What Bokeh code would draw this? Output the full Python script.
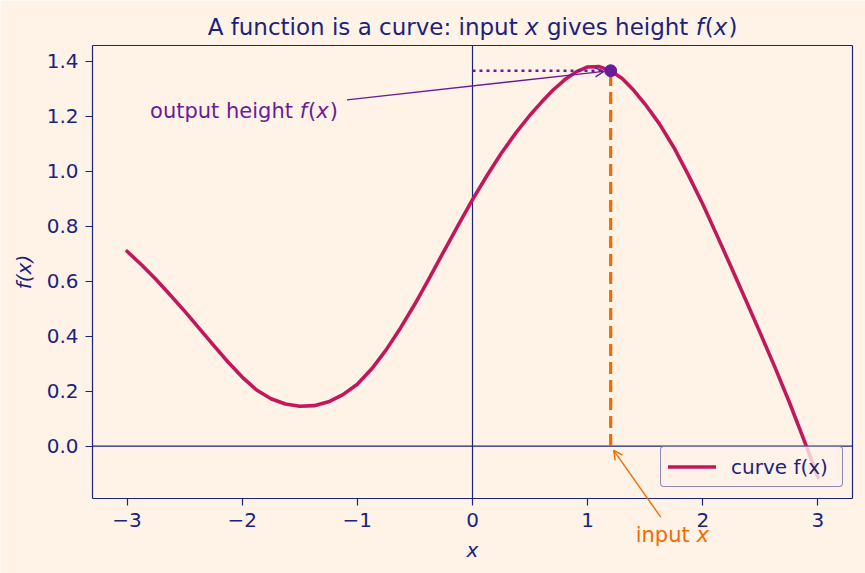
from bokeh.plotting import figure
from bokeh.models import Label, Arrow, OpenHead, FixedTicker, LinearAxis
from bokeh.embed import file_html
from bokeh.resources import INLINE

# ---- data ----
curve_x = [-3.0, -2.875, -2.75, -2.625, -2.5, -2.375, -2.25, -2.125, -2.0, -1.875, -1.75, -1.625,
           -1.5, -1.375, -1.25, -1.125, -1.0, -0.875, -0.75, -0.625, -0.5, -0.375, -0.25, -0.125,
           0.0, 0.125, 0.25, 0.375, 0.5, 0.6, 0.7, 0.8, 0.9, 1.0, 1.1, 1.2, 1.3, 1.4, 1.5,
           1.625, 1.75, 1.875, 2.0, 2.125, 2.25, 2.375, 2.5, 2.625, 2.75, 2.875, 3.0]
curve_y = [0.709, 0.660, 0.607, 0.550, 0.491, 0.429, 0.367, 0.307, 0.251, 0.204, 0.172, 0.153,
           0.145, 0.147, 0.161, 0.187, 0.225, 0.281, 0.350, 0.430, 0.517, 0.611, 0.708, 0.803,
           0.897, 0.984, 1.066, 1.139, 1.205, 1.252, 1.296, 1.333, 1.362, 1.380, 1.381, 1.366,
           1.338, 1.295, 1.244, 1.172, 1.086, 0.986, 0.880, 0.765, 0.648, 0.530, 0.410, 0.288,
           0.161, 0.026, -0.113]
x_input = [1.2]
y_output = [1.366]
x_ticks = [-3, -2, -1, 0, 1, 2, 3]
x_tick_labels = ["\u22123", "\u22122", "\u22121", "0", "1", "2", "3"]
y_ticks = [0.0, 0.2, 0.4, 0.6, 0.8, 1.0, 1.2, 1.4]
y_tick_labels = ["0.0", "0.2", "0.4", "0.6", "0.8", "1.0", "1.2", "1.4"]
title_parts = [("A function is a curve: input ", False), ("x", True), (" gives height ", False),
               ("f", True), ("(", False), ("x", True), (")", False)]
out_parts = [("output height ", False), ("f", True), ("(", False), ("x", True), (")", False)]
in_parts = [("input ", False), ("x", True)]
legend_text = "curve f(x)"

# ---- layout / style ----
WIDTH, HEIGHT = 865, 573
X_LO, X_HI = -3.3, 3.3          # visible axes range
Y_LO, Y_HI = -0.191, 1.458
FR_L, FR_R, FR_T, FR_B = 92, 852, 45, 498   # axes box in pixels

BG = "#FFF3E8"
NAVY = "#1A237E"
CRIMSON = "#C2185B"
ORANGE = "#EF6C00"
PURPLE = "#6A1B9A"
FONT = "DejaVu Sans"

sx = (FR_R - FR_L) / (X_HI - X_LO)
sy = (FR_B - FR_T) / (Y_HI - Y_LO)
xr = (X_LO - FR_L / sx, X_HI + (WIDTH - FR_R) / sx)
yr = (Y_LO - (HEIGHT - FR_B) / sy, Y_HI + FR_T / sy)
TEXT_SHIFT = 7 / sy   # lift text baselines by 7 px

W = {' ': 0.318, 'A': 0.684, 'a': 0.613, 'c': 0.550, 'e': 0.615, 'f': 0.352, 'g': 0.635,
     'h': 0.634, 'i': 0.278, 'n': 0.634, 'o': 0.612, 'p': 0.635, 'r': 0.411, 's': 0.521,
     't': 0.392, 'u': 0.634, 'v': 0.592, 'x': 0.592, '(': 0.390, ')': 0.390, ':': 0.337}


def width_px(s, size):
    return sum(W.get(c, 0.6) for c in s) * size


p = figure(width=WIDTH, height=HEIGHT, x_range=xr, y_range=yr,
           output_backend="svg", toolbar_location=None, x_axis_type=None, y_axis_type=None,
           min_border=0, min_border_left=0, min_border_right=0, min_border_top=0,
           min_border_bottom=0)
p.background_fill_color = BG
p.border_fill_color = BG
p.outline_line_color = None
p.grid.visible = False


def style_axis(ax):
    ax.axis_line_color = NAVY
    ax.axis_line_width = 1.2
    ax.major_tick_line_color = NAVY
    ax.major_tick_line_width = 1.2
    ax.minor_tick_line_color = None
    ax.major_tick_out = 7
    ax.major_tick_in = 0
    ax.major_label_text_font = FONT
    ax.major_label_text_font_size = "20px"
    ax.major_label_text_color = NAVY
    ax.major_label_standoff = 7
    ax.axis_label_text_font = FONT
    ax.axis_label_text_font_size = "20px"
    ax.axis_label_text_color = NAVY
    ax.axis_label_text_font_style = "italic"
    ax.axis_label_standoff = 8


xaxis = LinearAxis(ticker=FixedTicker(ticks=x_ticks), fixed_location=Y_LO, bounds=(X_LO, X_HI),
                   axis_label="x",
                   major_label_overrides={t: l for t, l in zip(x_ticks, x_tick_labels)})
yaxis = LinearAxis(ticker=FixedTicker(ticks=y_ticks), fixed_location=X_LO, bounds=(Y_LO, Y_HI),
                   axis_label="f(x)",
                   major_label_overrides={t: l for t, l in zip(y_ticks, y_tick_labels)})
top_axis = LinearAxis(ticker=FixedTicker(ticks=[]), fixed_location=Y_HI, bounds=(X_LO, X_HI))
right_axis = LinearAxis(ticker=FixedTicker(ticks=[]), fixed_location=X_HI, bounds=(Y_LO, Y_HI))
for ax in (xaxis, yaxis, top_axis, right_axis):
    style_axis(ax)
p.add_layout(xaxis, "below")
p.add_layout(yaxis, "left")
p.add_layout(top_axis, "above")
p.add_layout(right_axis, "right")

# zero reference lines across the axes box
p.segment(x0=[0, X_LO], y0=[Y_LO, 0], x1=[0, X_HI], y1=[Y_HI, 0], line_color=NAVY, line_width=1.2)

p.line(curve_x, curve_y, line_color=CRIMSON, line_width=3.6, legend_label=legend_text,
       line_join="round", line_cap="round")

p.segment(x0=x_input, y0=[0], x1=x_input, y1=y_output, line_color=ORANGE, line_width=3.2,
          line_dash="12 6")
p.segment(x0=[0], y0=y_output, x1=x_input, y1=y_output, line_color=PURPLE, line_width=2.5,
          line_dash="3 4")
p.scatter(x_input, y_output, size=12, fill_color=PURPLE, line_color=PURPLE)

p.add_layout(Arrow(end=OpenHead(size=9, line_color=PURPLE, line_width=1.4),
                   x_start=-1.09, y_start=1.26, x_end=1.142, y_end=1.364,
                   line_color=PURPLE, line_width=1.4))
p.add_layout(Arrow(end=OpenHead(size=9, line_color=ORANGE, line_width=1.4),
                   x_start=1.635, y_start=-0.259, x_end=1.226, y_end=-0.016,
                   line_color=ORANGE, line_width=1.4))


def add_parts(parts, x, y, size, color, center=False, gap=1.0):
    total = sum(width_px(t, size) for t, _ in parts) + gap * sum(1 for _, it in parts if it)
    off = -total / 2 if center else 0.0
    for t, it in parts:
        lead = len(t) - len(t.lstrip(" "))
        core = t.strip(" ")
        if core:
            p.add_layout(Label(x=x, y=y + TEXT_SHIFT, x_offset=off + width_px(" " * lead, size),
                               text=core, text_font=FONT,
                               text_font_size=f"{size}px", text_color=color,
                               text_font_style="italic" if it else "normal",
                               text_align="left", text_baseline="alphabetic"))
        off += width_px(t, size) + (gap if it else 0)


add_parts(title_parts, (X_LO + X_HI) / 2, 1.4996, 23, NAVY, center=True)
add_parts(out_parts, -2.80, 1.194, 21, PURPLE)
add_parts(in_parts, 1.417, -0.351, 21, ORANGE)

lg = p.legend[0]
lg.location = (660, HEIGHT - 487)
lg.padding = 7
lg.glyph_width = 48
lg.glyph_height = 25
lg.label_height = 25
lg.label_width = 104
lg.label_standoff = 15
lg.label_text_font = FONT
lg.label_text_font_size = "20px"
lg.label_text_color = NAVY
lg.border_line_color = NAVY
lg.border_line_width = 1.2
lg.border_radius = 4
lg.background_fill_color = BG
lg.background_fill_alpha = 0.8

open("out.html", "w").write(file_html(p, INLINE))
